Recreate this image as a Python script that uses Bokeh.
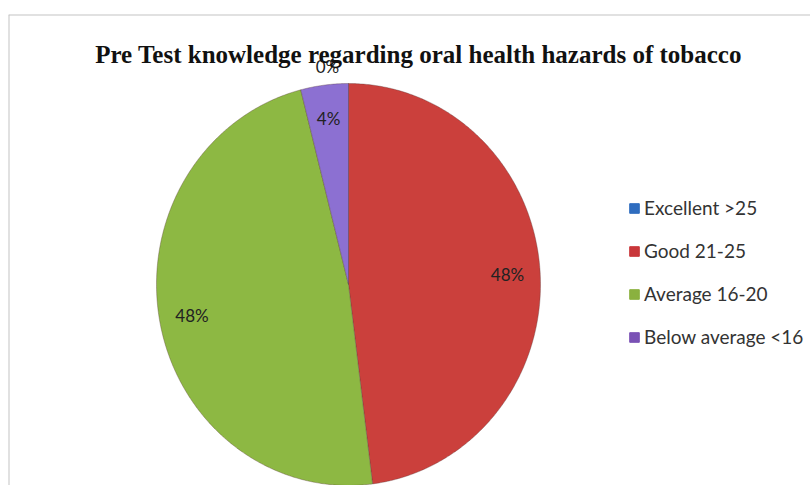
import numpy as np
from bokeh.plotting import figure
from bokeh.models import Range1d, Legend, LegendItem, Label, Span, ColumnDataSource
from bokeh.core.properties import value
from bokeh.embed import file_html
from bokeh.resources import INLINE

# ---- data ----
categories = ["Excellent >25", "Good 21-25", "Average 16-20", "Below average <16"]
values = [0, 48, 48, 4]
pct_labels = ["0%", "48%", "48%", "4%"]
colors = ["#3A78C9", "#CB403C", "#8DB843", "#8C70D2"]
legend_colors = ["#2F6DBF", "#C9373A", "#8AB13F", "#7A52B5"]
title_text = "Pre Test knowledge regarding oral health hazards of tobacco"

# ---- layout (pixels) ----
W, H = 810, 485
left_b, top_b = 8, 14
cxp, cyp, rxp, ryp = 348, 284, 192, 201
x0 = -(cxp - left_b) / rxp
x1 = x0 + (W - left_b) / rxp
y1 = (cyp - top_b) / ryp
y0 = y1 - (H - top_b) / ryp

p = figure(width=W, height=H, x_range=Range1d(x0, x1), y_range=Range1d(y0, y1),
           output_backend="svg", toolbar_location=None,
           x_axis_type=None, y_axis_type=None,
           min_border_left=left_b, min_border_top=top_b,
           min_border_right=0, min_border_bottom=0,
           outline_line_color=None, background_fill_color="white",
           border_fill_color="white")

# frame border (left and top visible in reference)
p.add_layout(Span(location=x0, dimension="height", line_color="#C3C3C3", line_width=2))
p.add_layout(Span(location=y1, dimension="width", line_color="#C3C3C3", line_width=2))

total = float(sum(values))
cum = np.concatenate([[0.0], np.cumsum(values)]) / total
lx, ly, lt, lxo = [], [], [], []
for i, cat in enumerate(categories):
    t0 = 90.0 - 360.0 * cum[i]
    t1 = 90.0 - 360.0 * cum[i + 1]
    n = max(2, int(abs(t1 - t0)) * 2 + 2)
    th = np.radians(np.linspace(t0, t1, n))
    px = np.concatenate([[0.0], np.cos(th)])
    py = np.concatenate([[0.0], np.sin(th)])
    p.patch(px, py, fill_color=colors[i], line_color="#5A3A3A",
            line_alpha=0.35, line_width=1)
    mid = np.radians((t0 + t1) / 2.0)
    if values[i] > 0:
        rad, xo = 0.83, 0
    else:
        rad, xo = 1.085, -21
    lx.append(rad * np.cos(mid))
    ly.append(rad * np.sin(mid))
    lt.append(pct_labels[i])
    lxo.append(xo)

src = ColumnDataSource(dict(x=lx, y=ly, t=lt, xo=lxo))
p.text(x="x", y="y", text="t", x_offset="xo", source=src,
       text_font=value("Lato"), text_font_size="17px", text_color="#222222",
       text_align="center", text_baseline="middle")

# title
p.add_layout(Label(x=(418 - cxp) / rxp, y=(cyp - 54) / ryp, text=title_text,
                   text_font="Liberation Serif", text_font_style="bold",
                   text_font_size="25px", text_color="#111111",
                   text_align="center", text_baseline="alphabetic"))

# legend proxies (drawn outside the visible range) with legend colours
leg_items = []
for i, cat in enumerate(categories):
    g = p.quad(left=[x0 - 3], right=[x0 - 2], bottom=[y0 - 3], top=[y0 - 2],
               fill_color=legend_colors[i], line_color=legend_colors[i])
    leg_items.append(LegendItem(label=cat, renderers=[g]))

legend = Legend(items=leg_items, location=(620, 137),
                glyph_width=12, glyph_height=12, label_height=20,
                spacing=20, label_standoff=4, padding=0, margin=0,
                border_line_color=None, background_fill_alpha=0,
                label_text_font="Lato", label_text_font_size="19px",
                label_text_color="#333333")
p.add_layout(legend)

open("out.html", "w").write(file_html(p, INLINE))
